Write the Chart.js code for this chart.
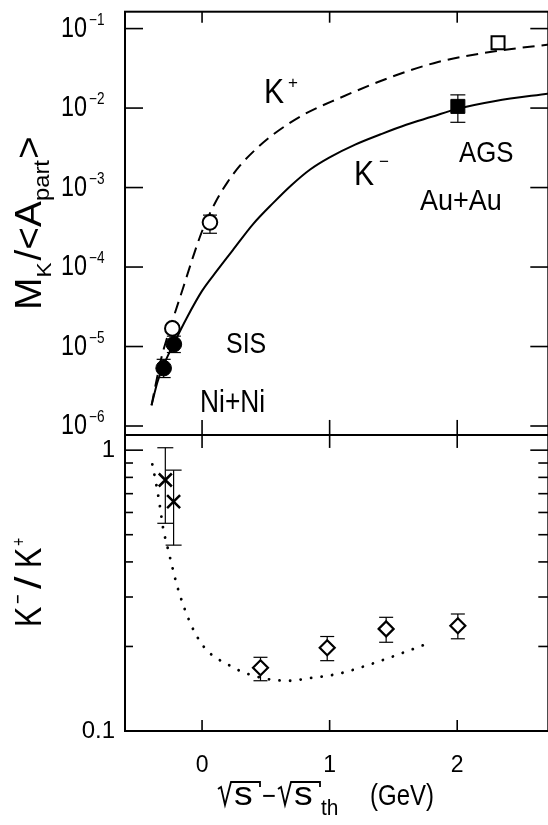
<!DOCTYPE html>
<html>
<head>
<meta charset="utf-8">
<script src="https://cdn.jsdelivr.net/npm/chart.js@4"></script>
<style>
  html, body { margin: 0; padding: 0; background: #fff; overflow: hidden; }
  #wrap { width: 560px; height: 825px; }
</style>
</head>
<body>
<div id="wrap"><canvas id="kaons" width="560" height="825"></canvas></div>
<script>
// axis ticks
const xTicks = [0, 1, 2];
const xTickLabels = ['0', '1', '2'];
const topTicks = [1e-1, 1e-2, 1e-3, 1e-4, 1e-5, 1e-6];
const topTickExp = ['\u22121', '\u22122', '\u22123', '\u22124', '\u22125', '\u22126'];
const bottomTicks = [1, 0.1];
const bottomTickLabels = ['1', '0.1'];
const bottomMinorTicks = [0.2, 0.3, 0.4, 0.5, 0.6, 0.7, 0.8, 0.9];

// K+ per participant (open symbols)
const sisKplusX = [-0.233, 0.062];
const sisKplusY = [1.69e-5, 3.65e-4];
const sisKplusLo = [null, 2.66e-4];
const sisKplusHi = [null, 4.5e-4];
const agsKplusX = [2.32];
const agsKplusY = [0.0662];

// K- per participant (filled symbols)
const sisKminusX = [-0.301, -0.221];
const sisKminusY = [5.34e-6, 1.07e-5];
const sisKminusLo = [4.07e-6, 8.4e-6];
const sisKminusHi = [6.9e-6, 1.35e-5];
const agsKminusX = [2.005];
const agsKminusY = [0.0105];
const agsKminusLo = [0.00662];
const agsKminusHi = [0.01466];

// model curves, upper panel
const kPlusCurveX = [-0.396, -0.36, -0.32, -0.28, -0.233, -0.15, -0.07, 0, 0.1, 0.2, 0.3, 0.42, 0.56, 0.8, 1.07, 1.48, 1.85, 2.32, 2.72];
const kPlusCurveY = [1.82e-6, 3.55e-6, 7.08e-6, 1.2e-5, 2.09e-5, 5.37e-5, 1.35e-4, 2.82e-4, 6.31e-4, 1.17e-3, 1.91e-3, 3.02e-3, 4.68e-3, 8.32e-3, 0.0132, 0.0245, 0.038, 0.0525, 0.0631];
const kMinusCurveX = [-0.396, -0.35, -0.3, -0.22, -0.12, 0, 0.12, 0.24, 0.4, 0.56, 0.7, 0.85, 1.0, 1.2, 1.4, 1.6, 1.8, 2.0, 2.3, 2.72];
const kMinusCurveY = [1.82e-6, 3.55e-6, 5.89e-6, 1.1e-5, 2.29e-5, 5.01e-5, 9.12e-5, 1.62e-4, 3.47e-4, 6.46e-4, 1.07e-3, 1.7e-3, 2.4e-3, 3.47e-3, 4.68e-3, 6.17e-3, 7.76e-3, 9.77e-3, 0.0123, 0.0153];

// K-/K+ ratio, lower panel
const ratioSisX = [-0.288, -0.223];
const ratioSisY = [0.783, 0.656];
const ratioSisLo = [0.549, 0.459];
const ratioSisHi = [1.02, 0.849];
const ratioAgsX = [0.458, 0.981, 1.443, 2.005];
const ratioAgsY = [0.168, 0.198, 0.231, 0.237];
const ratioAgsLo = [0.151, 0.178, 0.207, 0.213];
const ratioAgsHi = [0.183, 0.217, 0.254, 0.261];
const ratioCurveX = [-0.39, -0.36, -0.33, -0.306, -0.27, -0.176, -0.021, 0.238, 0.497, 0.7, 0.813, 1.072, 1.331, 1.59, 1.758];
const ratioCurveY = [0.89, 0.76, 0.63, 0.53, 0.45, 0.307, 0.21, 0.169, 0.1536, 0.151, 0.1536, 0.16, 0.1735, 0.191, 0.204];

const pts = (xs, ys) => xs.map((x, i) => ({x: x, y: ys[i]}));

const FONT = '"Liberation Sans", Arial, sans-serif';

function put(ctx, s, x, y, size, o) {
  o = o || {};
  ctx.save();
  ctx.translate(x, y);
  if (o.rot) ctx.rotate(o.rot);
  ctx.scale(o.sx || 1, 1);
  ctx.font = size + 'px ' + FONT;
  ctx.textAlign = o.align || 'left';
  ctx.textBaseline = o.base || 'alphabetic';
  ctx.fillStyle = '#000';
  ctx.fillText(s, 0, 0);
  ctx.restore();
}

// sequence of text pieces along a (possibly rotated) baseline
function rich(ctx, parts, x, y, rot, sx) {
  const ux = Math.cos(rot), uy = Math.sin(rot);
  const vx = -Math.sin(rot), vy = Math.cos(rot);
  let d = 0;
  parts.forEach(p => {
    ctx.font = p.size + 'px ' + FONT;
    const w = ctx.measureText(p.t).width * sx;
    const dy = p.dy || 0;
    put(ctx, p.t, x + ux * d + vx * dy, y + uy * d + vy * dy, p.size, {rot: rot, sx: sx});
    d += w + (p.gap || 0);
  });
}

function line(ctx, x1, y1, x2, y2) {
  ctx.beginPath();
  ctx.moveTo(x1, y1);
  ctx.lineTo(x2, y2);
  ctx.stroke();
}

const errorGroups = [
  {x: sisKplusX, lo: sisKplusLo, hi: sisKplusHi, axis: 'yTop', cap: 7},
  {x: sisKminusX, lo: sisKminusLo, hi: sisKminusHi, axis: 'yTop', cap: 7},
  {x: agsKminusX, lo: agsKminusLo, hi: agsKminusHi, axis: 'yTop', cap: 7.5},
  {x: ratioSisX, lo: ratioSisLo, hi: ratioSisHi, axis: 'yBot', cap: 8},
  {x: ratioAgsX, lo: ratioAgsLo, hi: ratioAgsHi, axis: 'yBot', cap: 7}
];

const errorBars = {
  id: 'errorBars',
  beforeDatasetsDraw(chart) {
    const ctx = chart.ctx;
    const xs = chart.scales.x;
    ctx.save();
    ctx.strokeStyle = '#000';
    ctx.lineWidth = 1.2;
    errorGroups.forEach(g => {
      const ys = chart.scales[g.axis];
      g.x.forEach((xv, i) => {
        if (g.lo[i] == null) return;
        const px = xs.getPixelForValue(xv);
        const p1 = ys.getPixelForValue(g.lo[i]);
        const p2 = ys.getPixelForValue(g.hi[i]);
        line(ctx, px, p1, px, p2);
        line(ctx, px - g.cap, p1, px + g.cap, p1);
        line(ctx, px - g.cap, p2, px + g.cap, p2);
      });
    });
    ctx.restore();
  }
};

const frame = {
  id: 'frame',
  afterDraw(chart) {
    const ctx = chart.ctx;
    const xs = chart.scales.x, yt = chart.scales.yTop, yb = chart.scales.yBot;
    const L = chart.chartArea.left, R = chart.chartArea.right;
    const T = yt.top, M = yt.bottom, B = yb.bottom;
    ctx.save();
    ctx.strokeStyle = '#000';
    ctx.lineWidth = 2;
    ctx.strokeRect(L, T, R - L, B - T);
    line(ctx, L, M, R, M);

    ctx.lineWidth = 1.6;
    topTicks.forEach(v => {
      const y = yt.getPixelForValue(v);
      line(ctx, L, y, L + 18, y);
      line(ctx, R, y, R - 18, y);
    });
    bottomTicks.forEach(v => {
      const y = yb.getPixelForValue(v);
      line(ctx, L, y, L + 18, y);
      line(ctx, R, y, R - 18, y);
    });
    bottomMinorTicks.forEach(v => {
      const y = yb.getPixelForValue(v);
      line(ctx, L, y, L + 8, y);
      line(ctx, R, y, R - 10, y);
    });
    xTicks.forEach(v => {
      const x = xs.getPixelForValue(v);
      line(ctx, x, T, x, T + 11);
      line(ctx, x, M, x, M - 15);
      line(ctx, x, M, x, M + 13);
      line(ctx, x, B, x, B - 11);
    });

    // tick labels
    topTicks.forEach((v, i) => {
      const y = yt.getPixelForValue(v);
      put(ctx, '10', 87, y, 30, {align: 'right', base: 'middle', sx: 0.78});
      put(ctx, topTickExp[i], 89, y - 4, 16, {sx: 0.85});
    });
    bottomTicks.forEach((v, i) => {
      const y = yb.getPixelForValue(v);
      put(ctx, bottomTickLabels[i], 115, y, 24, {align: 'right', base: 'middle'});
    });
    xTicks.forEach((v, i) => {
      put(ctx, xTickLabels[i], xs.getPixelForValue(v), 766, 23, {align: 'center', base: 'middle'});
    });

    // axis titles
    const up = -Math.PI / 2;
    rich(ctx, [
      {t: 'M', size: 36},
      {t: 'K', size: 21, dy: 10, gap: 2},
      {t: '/<A', size: 36},
      {t: 'part', size: 22, dy: 8, gap: 1},
      {t: '>', size: 36}
    ], 41, 310, up, 1.08);

    put(ctx, 'K', 41, 627, 36, {rot: up, sx: 0.85});
    put(ctx, '\u2212', 25, 604, 22, {rot: up, sx: 0.75});
    put(ctx, '/', 41, 589, 36, {rot: up, sx: 1.25});
    put(ctx, 'K', 41, 568, 36, {rot: up, sx: 0.85});
    put(ctx, '+', 25, 546, 19, {rot: up, sx: 0.75});

    // x title: sqrt(s) - sqrt(s_th) (GeV)
    ctx.lineWidth = 1.8;
    ctx.lineJoin = 'miter';
    ctx.beginPath();
    ctx.moveTo(218, 789); ctx.lineTo(221, 787); ctx.lineTo(225, 805);
    ctx.lineTo(231, 782); ctx.lineTo(260, 782); ctx.lineTo(260, 787);
    ctx.stroke();
    ctx.beginPath();
    ctx.moveTo(278, 789); ctx.lineTo(281, 787); ctx.lineTo(285, 805);
    ctx.lineTo(291, 782); ctx.lineTo(320, 782); ctx.lineTo(320, 787);
    ctx.stroke();
    put(ctx, 's', 234, 805, 34, {sx: 1.1});
    put(ctx, '\u2212', 262, 805, 28, {sx: 0.85});
    put(ctx, 's', 294, 805, 34, {sx: 1.1});
    put(ctx, 'th', 321, 815, 22, {sx: 0.95});
    put(ctx, '(GeV)', 370, 805, 30, {sx: 0.8});

    // annotations
    put(ctx, 'K', 264, 103, 35, {sx: 0.86});
    put(ctx, '+', 288, 83, 17, {base: 'middle'});
    put(ctx, 'K', 354, 185, 35, {sx: 0.86});
    put(ctx, '\u2212', 379, 162, 17, {base: 'middle'});
    put(ctx, 'AGS', 459, 162, 30, {sx: 0.86});
    put(ctx, 'Au+Au', 420, 210, 30, {sx: 0.9});
    put(ctx, 'SIS', 226, 353, 29, {sx: 0.86});
    put(ctx, 'Ni+Ni', 200, 412, 31, {sx: 0.85});
    ctx.restore();
  }
};

const marker = (data, axis, style, radius, fill, bw) => ({
  data: data,
  yAxisID: axis,
  showLine: false,
  pointStyle: style,
  pointRadius: radius,
  pointBorderWidth: bw,
  pointBackgroundColor: fill,
  pointBorderColor: '#000'
});

new Chart(document.getElementById('kaons'), {
  type: 'line',
  data: {
    datasets: [
      marker(pts(sisKplusX, sisKplusY), 'yTop', 'circle', 7.3, '#fff', 2),
      marker(pts(sisKminusX, sisKminusY), 'yTop', 'circle', 7.8, '#000', 1),
      marker(pts(agsKplusX, agsKplusY), 'yTop', 'rect', 9.2, '#fff', 2),
      marker(pts(agsKminusX, agsKminusY), 'yTop', 'rect', 9.9, '#000', 1),
      marker(pts(ratioSisX, ratioSisY), 'yBot', 'crossRot', 9.2, '#000', 2.5),
      marker(pts(ratioAgsX, ratioAgsY), 'yBot', 'rectRot', 7.5, '#fff', 2.2),
      {
        data: pts(kPlusCurveX, kPlusCurveY),
        yAxisID: 'yTop',
        borderColor: '#000',
        borderWidth: 2,
        borderDash: [12, 7],
        pointRadius: 0,
        cubicInterpolationMode: 'monotone'
      },
      {
        data: pts(kMinusCurveX, kMinusCurveY),
        yAxisID: 'yTop',
        borderColor: '#000',
        borderWidth: 2,
        pointRadius: 0,
        cubicInterpolationMode: 'monotone'
      },
      {
        data: pts(ratioCurveX, ratioCurveY),
        yAxisID: 'yBot',
        borderColor: '#000',
        borderWidth: 2.8,
        borderDash: [0.1, 10.5],
        borderCapStyle: 'round',
        pointRadius: 0,
        cubicInterpolationMode: 'monotone'
      }
    ]
  },
  options: {
    responsive: false,
    animation: false,
    devicePixelRatio: 1,
    layout: {padding: {left: 125, right: 8, top: 7, bottom: 94}},
    plugins: {
      legend: {display: false},
      tooltip: {enabled: false}
    },
    scales: {
      x: {type: 'linear', min: -0.604, max: 2.714, display: false},
      yBot: {type: 'logarithmic', position: 'left', min: 0.1, max: 1.133, stack: 'panels', stackWeight: 298, display: false},
      yTop: {type: 'logarithmic', position: 'left', min: 7.72e-7, max: 0.1631, stack: 'panels', stackWeight: 426, display: false}
    }
  },
  plugins: [errorBars, frame]
});
</script>
</body>
</html>
